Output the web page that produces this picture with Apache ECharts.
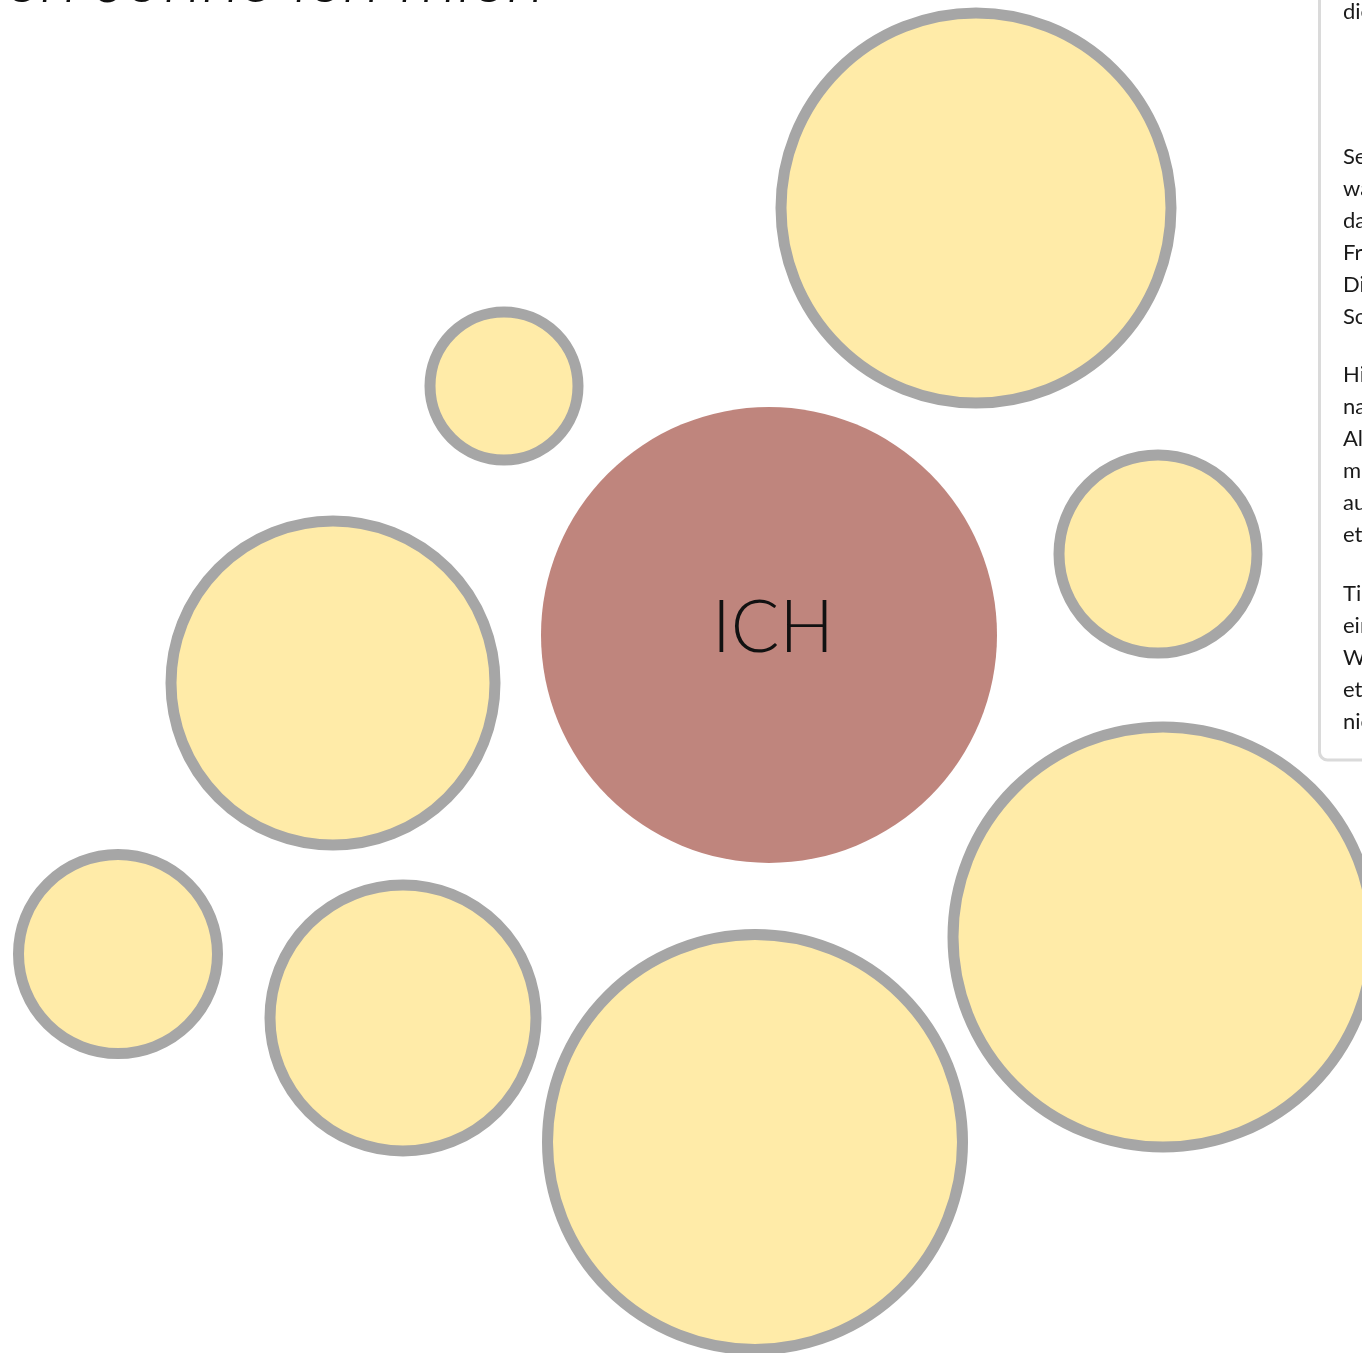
<!DOCTYPE html>
<html>
<head>
<meta charset="utf-8">
<script src="https://cdn.jsdelivr.net/npm/echarts@6/dist/echarts.min.js"></script>
<style>
html,body{margin:0;padding:0;background:#fff;}
#c{width:1362px;height:1353px;}
</style>
</head>
<body>
<div id="c"></div>
<script>
// Circle data: labels, centre positions (x, y) and outer diameters
const labels = ['', '', 'ICH', '', '', '', '', '', ''];
const xs = [976, 504, 769, 1158, 333, 118, 403, 755, 1163];
const ys = [208, 386, 635, 554, 683, 954, 1018, 1142, 937];
const diameters = [401, 159, 456, 209, 335, 210, 277, 426, 431];

const titleText = 'ch sonne ich mich';
const panelLines = [
  ['die', 12],
  ['Sehen Sie sich die Kreise an', 157],
  ['wählen Sie einen davon aus', 189],
  ['darin, was Ihnen Wärme und', 221],
  ['Freude schenkt.', 253],
  ['Diese Dinge sind Ihre', 285],
  ['Sonnenplätze.', 317],
  ['Hier können Sie auch', 375],
  ['nachdenken über', 407],
  ['Alles, was Ihnen gut tut,', 439],
  ['mit anderen teilen oder', 471],
  ['auch allein genießen,', 503],
  ['etwas Schönes.', 535],
  ['Tipp: Nehmen Sie sich', 594],
  ['einen Moment Zeit.', 626],
  ['Wenn Ihnen nicht sofort', 658],
  ['etwas einfällt, ist das', 690],
  ['nicht schlimm.', 722]
];

const BORDER = 11;
const data = xs.map((x, i) => {
  const isMe = labels[i] === 'ICH';
  const item = {
    value: [x, ys[i]],
    name: labels[i],
    symbolSize: isMe ? diameters[i] : diameters[i] - BORDER
  };
  if (isMe) {
    item.itemStyle = { color: '#BF857D', borderWidth: 0 };
    item.label = {
      show: true,
      formatter: '{b}',
      color: '#111',
      fontSize: 72,
      fontFamily: 'Century Gothic, URW Gothic, Lato, sans-serif',
      fontWeight: 300,
      offset: [4, -6]
    };
  }
  return item;
});

const chart = echarts.init(document.getElementById('c'), null, { renderer: 'canvas' });

const panelTexts = panelLines.map(([t, y]) => ({
  type: 'text',
  x: 1343,
  y: y,
  style: { text: t, fill: '#1a1a1a', fontSize: 22, verticalAlign: 'middle', fontFamily: 'Century Gothic, Lato, sans-serif' },
  z: 6
}));

chart.setOption({
  animation: false,
  backgroundColor: '#fff',
  grid: { left: 0, right: 0, top: 0, bottom: 0 },
  xAxis: { type: 'value', min: 0, max: 1362, show: false },
  yAxis: { type: 'value', min: 0, max: 1353, inverse: true, show: false },
  series: [{
    type: 'scatter',
    clip: false,
    symbol: 'circle',
    itemStyle: { color: '#FFEBA8', borderColor: '#A6A6A6', borderWidth: BORDER, opacity: 1 },
    emphasis: { disabled: true },
    data: data,
    z: 2
  }],
  graphic: [
    {
      type: 'text',
      x: 6,
      y: 15.5,
      style: {
        text: titleText,
        fill: '#111',
        fontSize: 74,
        fontStyle: 'italic',
        fontWeight: 300,
        verticalAlign: 'bottom',
        fontFamily: 'Century Gothic, Lato, sans-serif'
      },
      z: 10
    },
    {
      type: 'rect',
      shape: { x: 1319.5, y: -20, width: 120, height: 780, r: 8 },
      style: { fill: '#fff', stroke: '#DADADA', lineWidth: 3 },
      z: 5
    },
    ...panelTexts
  ]
});
</script>
</body>
</html>
